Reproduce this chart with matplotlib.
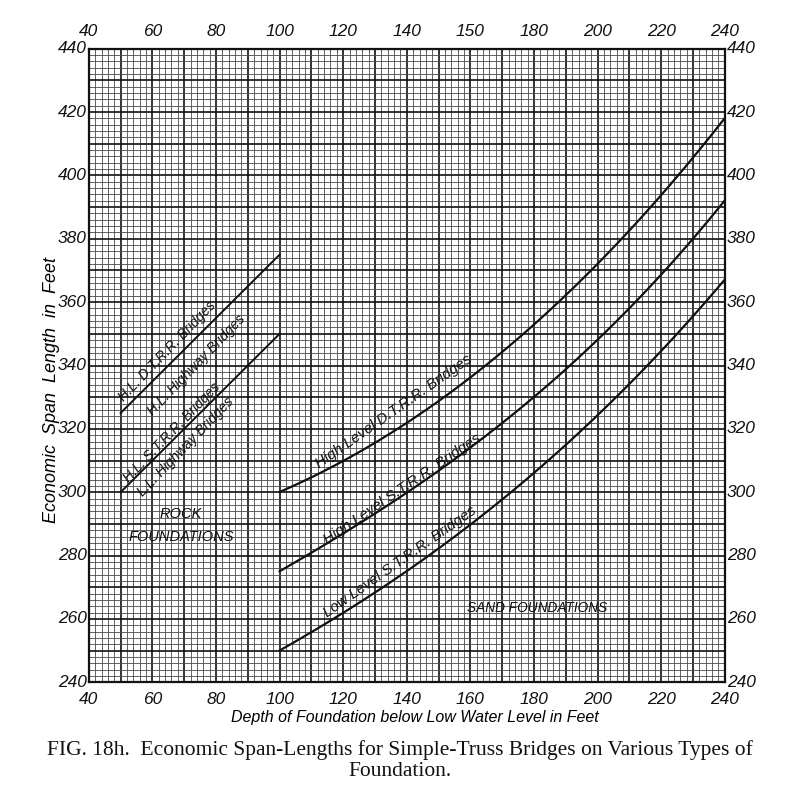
import matplotlib
matplotlib.use("Agg")
import matplotlib.pyplot as plt
from matplotlib.ticker import MultipleLocator
import numpy as np

# ---- data ----
depth_sand = [100, 120, 140, 160, 180, 200, 220, 240]
hl_dt_sand = [300, 310, 322, 336, 353, 372, 394, 418]   # High Level D.T.R.R. Bridges
hl_st_sand = [275, 287, 300, 314, 330, 348, 369, 392]   # High Level S.T.R.R. Bridges
ll_st_sand = [250, 262, 275, 290, 306, 324, 345, 367]   # Low Level S.T.R.R. Bridges

depth_rock = [50, 100]
hl_dt_rock = [325, 375]   # H.L. D.T.R.R. / H.L. Highway Bridges
hl_st_rock = [300, 350]   # H.L. S.T.R.R. / L.L. Highway Bridges

x_ticks = [40, 60, 80, 100, 120, 140, 160, 180, 200, 220, 240]
x_labels = ["40", "60", "80", "100", "120", "140", "160", "180", "200", "220", "240"]
top_labels = ["40", "60", "80", "100", "120", "140", "150", "180", "200", "220", "240"]
y_ticks = [240, 260, 280, 300, 320, 340, 360, 380, 400, 420, 440]
y_labels = [str(v) for v in y_ticks]

HAND = ["Liberation Sans", "DejaVu Sans"]
SERIF = ["Liberation Serif", "DejaVu Serif"]

fig = plt.figure(figsize=(8.0, 7.92), dpi=100)
ax = fig.add_axes([0.111, 0.1385, 0.795, 0.800])
ax.set_xlim(40, 240)
ax.set_ylim(240, 440)

# graph-paper grid
ax.xaxis.set_minor_locator(MultipleLocator(2))
ax.yaxis.set_minor_locator(MultipleLocator(2))
ax.xaxis.set_major_locator(MultipleLocator(10))
ax.yaxis.set_major_locator(MultipleLocator(10))
ax.grid(which="minor", color="#4a4a4a", lw=0.6)
ax.grid(which="major", color="#111111", lw=1.2)
ax.set_axisbelow(True)
ax.tick_params(which="both", length=0)
ax.set_xticklabels([])
ax.set_yticklabels([])
for s in ax.spines.values():
    s.set_linewidth(1.6)
    s.set_color("#111111")

tick_kw = dict(family=HAND, style="italic", fontsize=12.5, color="#111111")
for xv, lab in zip(x_ticks, x_labels):
    ax.text(xv, 237.0, lab, ha="center", va="top", **tick_kw)
for xv, lab in zip(x_ticks, top_labels):
    ax.text(xv, 443, lab, ha="center", va="bottom", **tick_kw)
for yv, lab in zip(y_ticks, y_labels):
    ax.text(39.4, yv, lab, ha="right", va="center", **tick_kw)
    ax.text(240.6, yv, lab, ha="left", va="center", **tick_kw)

# curves (smooth rendering through the read points)
def smooth(xs, ys):
    c = np.polyfit(xs, ys, 3)
    xf = np.linspace(xs[0], xs[-1], 200)
    return xf, np.polyval(c, xf)

for ys in (hl_dt_sand, hl_st_sand, ll_st_sand):
    xf, yf = smooth(depth_sand, ys)
    ax.plot(xf, yf, color="#111111", lw=1.6)
for ys in (hl_dt_rock, hl_st_rock):
    ax.plot(depth_rock, ys, color="#111111", lw=1.4)

ann = dict(family=HAND, style="italic", color="#111111",
           ha="center", va="center", rotation_mode="anchor")
ax.text(64.8, 344.6, "H.L. D.T.R.R. Bridges", rotation=46, fontsize=10, **ann)
ax.text(73.8, 340.2, "H.L. Highway Bridges", rotation=46, fontsize=10, **ann)
ax.text(66.2, 319.0, "H.L. S.T.R.R. Bridges", rotation=46, fontsize=10, **ann)
ax.text(70.6, 314.2, "L.L. Highway Bridges", rotation=46, fontsize=10, **ann)
ax.text(69.0, 293.0, "ROCK", rotation=0, fontsize=10.5, **ann)
ax.text(69.0, 286.0, "FOUNDATIONS", rotation=0, fontsize=10.5, **ann)
ax.text(135.8, 325.5, "High Level D.T.R.R. Bridges", rotation=35, fontsize=10.8, **ann)
ax.text(139.0, 301.5, "High Level S.T.R.R. Bridges.", rotation=34, fontsize=10.8, **ann)
ax.text(137.8, 278.0, "Low Level S.T.R.R. Bridges", rotation=35, fontsize=10.8, **ann)
ax.text(181.0, 263.5, "SAND FOUNDATIONS", rotation=0, fontsize=9.8, **ann)

fig.text(0.519, 0.094, "Depth of Foundation below Low Water Level in Feet",
         family=HAND, style="italic", fontsize=11.5, ha="center", va="center")
fig.text(0.064, 0.508, "Economic  Span  Length  in  Feet", rotation=90,
         family=HAND, style="italic", fontsize=13, ha="center", va="center")

fig.text(0.5, 0.053, "FIG. 18h.  Economic Span-Lengths for Simple-Truss Bridges on Various Types of",
         family=SERIF, fontsize=15.5, ha="center", va="center", color="#111111")
fig.text(0.5, 0.026, "Foundation.", family=SERIF, fontsize=15.5, ha="center",
         va="center", color="#111111")

fig.savefig("out.png", dpi=100, facecolor="white")
